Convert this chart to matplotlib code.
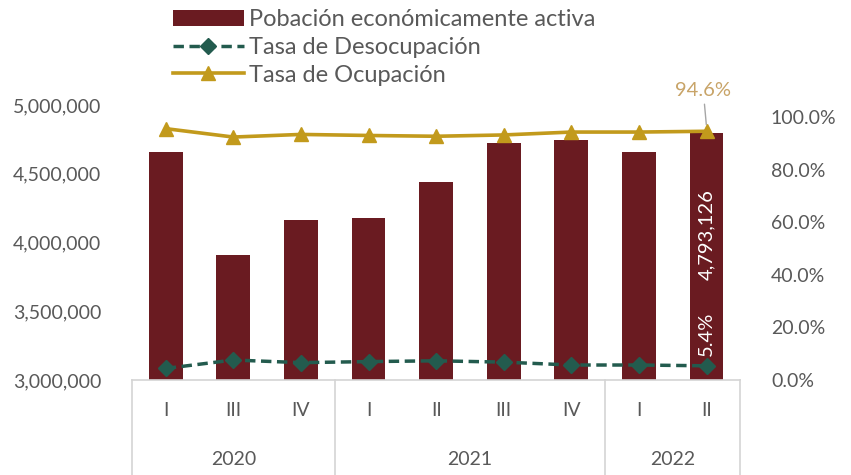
import matplotlib.pyplot as plt
import matplotlib.transforms as mtransforms
from matplotlib.ticker import FuncFormatter

# data
quarters = ["I", "III", "IV", "I", "II", "III", "IV", "I", "II"]
years = ["2020", "2021", "2022"]
year_sizes = [3, 4, 2]
pea = [4660000, 3909000, 4164000, 4178000, 4438000, 4726000, 4745000, 4658000, 4793126]
desocupacion = [4.4, 7.6, 6.6, 7.0, 7.3, 6.8, 5.7, 5.7, 5.4]
ocupacion = [95.6, 92.4, 93.4, 93.0, 92.7, 93.2, 94.3, 94.3, 94.6]

BAR = "#6A1B21"
GREEN = "#235B4E"
GOLD = "#C29A1C"
TAN = "#C8A468"
GRAY = "#595959"
LINE = "#D4D4D4"

plt.rcParams["font.family"] = ["Lato", "DejaVu Sans"]

fig = plt.figure(figsize=(8.51, 4.75), dpi=100)
ax = fig.add_axes([0.155, 0.2, 0.715, 0.579])
ax2 = ax.twinx()

x = list(range(len(quarters)))
bars = ax.bar(x, pea, width=0.5, color=BAR, label="Pobación económicamente activa", zorder=2)
ax.set_ylim(3000000, 5000000)
ax.set_xlim(-0.5, len(quarters) - 0.5)
ax.set_yticks([3000000, 3500000, 4000000, 4500000, 5000000])
ax.yaxis.set_major_formatter(FuncFormatter(lambda v, p: f"{v:,.0f}"))
ax.tick_params(axis="y", length=0, labelsize=14, colors=GRAY, pad=22)
ax.set_xticks([])

l1, = ax2.plot(x, desocupacion, color=GREEN, ls=(0, (3, 1.6)), lw=2.5, marker="D",
               markersize=8, label="Tasa de Desocupación", zorder=3)
l2, = ax2.plot(x, ocupacion, color=GOLD, lw=2.6, marker="^", markersize=10,
               label="Tasa de Ocupación", zorder=3)
ax2.set_ylim(0, 104.6)
ax2.set_yticks([0, 20, 40, 60, 80, 100])
ax2.yaxis.set_major_formatter(FuncFormatter(lambda v, p: f"{v:.1f}%"))
ax2.tick_params(axis="y", length=0, labelsize=14, colors=GRAY, pad=22)

for a in (ax, ax2):
    for s in a.spines.values():
        s.set_visible(False)
ax.spines["bottom"].set_visible(True)
ax.spines["bottom"].set_color(LINE)
ax.spines["bottom"].set_linewidth(1.2)

# data labels on the last period
last = len(x) - 1
ax.text(last, 4055000, f"{pea[last]:,}", rotation=90, ha="center", va="center",
        color="white", fontsize=14.5, zorder=4)
ax2.text(last, 17.5, f"{desocupacion[last]:.1f}%", rotation=90, ha="center", va="center",
         color="white", fontsize=14.5, zorder=4)
ax2.annotate(f"{ocupacion[last]:.1f}%", xy=(last, ocupacion[last] + 1.5),
             xytext=(last - 0.05, 107), ha="center", va="bottom", color=TAN, fontsize=14.5,
             arrowprops=dict(arrowstyle="-", color="#A6A6A6", lw=1), annotation_clip=False)

# two-level category axis
trans = mtransforms.blended_transform_factory(ax.transData, ax.transAxes)
for i, q in enumerate(quarters):
    ax.text(i, -0.11, q, transform=trans, ha="center", va="center", fontsize=14, color=GRAY)
start = 0
edges = [-0.5]
for yr, n in zip(years, year_sizes):
    ax.text(start + (n - 1) / 2, -0.29, yr, transform=trans, ha="center", va="center",
            fontsize=14, color=GRAY)
    start += n
    edges.append(start - 0.5)
for e in edges:
    ax.plot([e, e], [0, -0.35], transform=trans, color=LINE, lw=1.2, clip_on=False)

fig.legend(handles=[bars, l1, l2], loc="upper left", bbox_to_anchor=(0.178, 1.025),
           frameon=False, fontsize=17, handlelength=3.0, labelspacing=0.28,
           handletextpad=0.25, labelcolor=GRAY)

fig.savefig("out.png", dpi=100)
